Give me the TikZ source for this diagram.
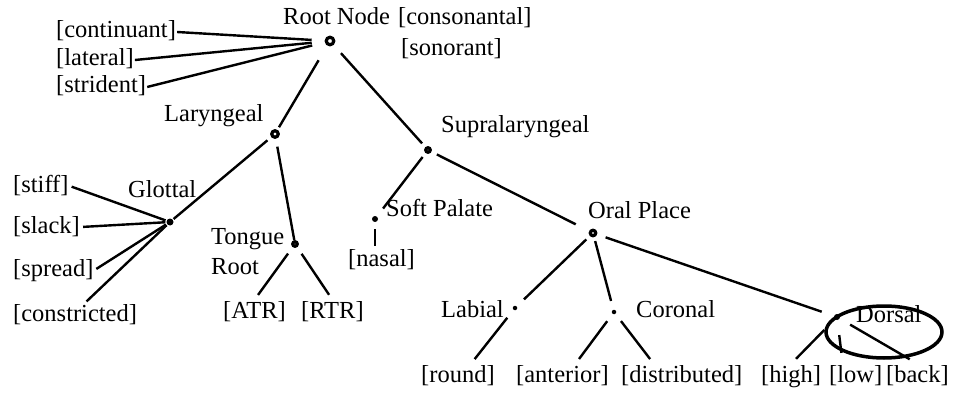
\documentclass[tikz,border=0pt]{standalone}
\usepackage{fontspec}
\setmainfont{Liberation Serif}
\usetikzlibrary{shapes.geometric}
\begin{document}
\begin{tikzpicture}[x=1pt,y=-1pt,line width=2.4pt,
 every node/.style={font=\fontsize{24.5}{30}\selectfont},
 ring/.style={circle,draw,line width=3.2pt,inner sep=0pt,minimum size=#1},
 ring/.default=5.5pt,
 dot/.style={circle,fill,inner sep=0pt,minimum size=#1},
 dot/.default=6pt,
 lbl/.style={anchor=west,inner sep=0pt,align=left,text height=17pt,text depth=5pt}]
\useasboundingbox (0,0) rectangle (961,393);
\node[ring=7.5pt] (root) at (330,41) {};
\node[ring=6.5pt] (lar) at (275,134) {};
\node[ring=4.5pt] (supra) at (428,150) {};
\node[dot=7pt] (glot) at (170,222) {};
\node[ring=4.5pt] (tongue) at (295,244) {};
\node[dot] (soft) at (375,219) {};
\node[ring] (oral) at (593,233) {};
\node[dot=4.5pt] (lab) at (515,308) {};
\node[dot=4.5pt] (cor) at (614,312) {};
\node[dot] (dors) at (837,317) {};
\node[lbl] (rootlbl) at (282,19) {Root Node};
\node[lbl] (cons) at (397,19) {[consonantal]};
\node[lbl] (son) at (400,50) {[sonorant]};
\node[lbl] (cont) at (55,32) {[continuant]};
\node[lbl] (lat) at (55,60) {[lateral]};
\node[lbl] (strid) at (55,87) {[strident]};
\node[lbl] (larlbl) at (163,116) {Laryngeal};
\node[lbl] (supralbl) at (440,127) {Supralaryngeal};
\node[lbl] (glotlbl) at (127,191) {Glottal};
\node[lbl] (stiff) at (12,186) {[stiff]};
\node[lbl] (slack) at (12,227) {[slack]};
\node[lbl] (spread) at (12,270) {[spread]};
\node[lbl] (constr) at (12,315) {[constricted]};
\node[lbl] (tonguelbl) at (210,268) {Tongue\\Root};
\node[lbl] (atr) at (222,312) {[ATR]};
\node[lbl] (rtr) at (300,312) {[RTR]};
\node[lbl] (softlbl) at (385,210) {Soft Palate};
\node[lbl] (nasal) at (347,260) {[nasal]};
\node[lbl] (orallbl) at (587,212) {Oral Place};
\node[lbl] (lablbl) at (440,311) {Labial};
\node[lbl] (corlbl) at (635,311) {Coronal};
\node[lbl] (dorslbl) at (855,316) {Dorsal};
\node[lbl] (round) at (420,376) {[round]};
\node[lbl] (ant) at (515,376) {[anterior]};
\node[lbl] (dist) at (620,376) {[distributed]};
\node[lbl] (high) at (760,376) {[high]};
\node[lbl] (low) at (828,376) {[low]};
\node[lbl] (back) at (885,376) {[back]};
\node[draw,ellipse,line width=3.5pt,minimum width=116pt,minimum height=52pt] (circ) at (884,332) {};
\draw[shorten >=13pt] (cont.east) -- (root);
\draw[shorten >=13pt] (lat.east) -- (root);
\draw[shorten >=13pt] (strid.east) -- (root);
\draw[shorten <=17pt,shorten >=3pt] (root) -- (lar);
\draw[shorten <=11pt,shorten >=5pt] (root) -- (supra);
\draw[shorten <=5pt] (lar) -- (glot);
\draw[shorten <=8pt] (lar) -- (tongue);
\draw[shorten <=2pt] (stiff.east) -- (glot);
\draw[shorten <=2pt] (slack.east) -- (glot);
\draw[shorten <=2pt] (spread.east) -- (glot);
\draw[shorten <=2pt] ([xshift=10pt]constr.north) -- (glot);
\draw[shorten <=8pt,shorten >=6pt] (tongue) -- (atr.north);
\draw[shorten <=8pt,shorten >=6pt] (tongue) -- (rtr.north);
\draw[shorten <=5pt,shorten >=9pt] (supra) -- (soft);
\draw[shorten <=6pt,shorten >=2pt] (soft) -- (nasal.north -| soft);
\draw[shorten <=6pt,shorten >=15pt] (supra) -- (oral);
\draw[shorten <=5pt,shorten >=9pt] (oral) -- (lab);
\draw[shorten <=4pt,shorten >=8pt] (oral) -- (cor);
\draw[shorten <=9pt,shorten >=12pt] (oral) -- (dors);
\draw[shorten <=9pt,shorten >=6pt] (lab) -- ([xshift=13pt]round.north);
\draw[shorten <=8pt,shorten >=6pt] (cor) -- ([xshift=13pt]ant.north);
\draw[shorten <=8pt,shorten >=6pt] (cor) -- ([xshift=-28pt]dist.north);
\draw[shorten <=14pt,shorten >=7pt] (dors) -- (high.north);
\draw[shorten <=14pt,shorten >=11pt] (dors) -- ([xshift=-13pt]low.north);
\draw[shorten <=11pt,shorten >=9pt] (dors) -- (back.north);
\end{tikzpicture}
\end{document}
